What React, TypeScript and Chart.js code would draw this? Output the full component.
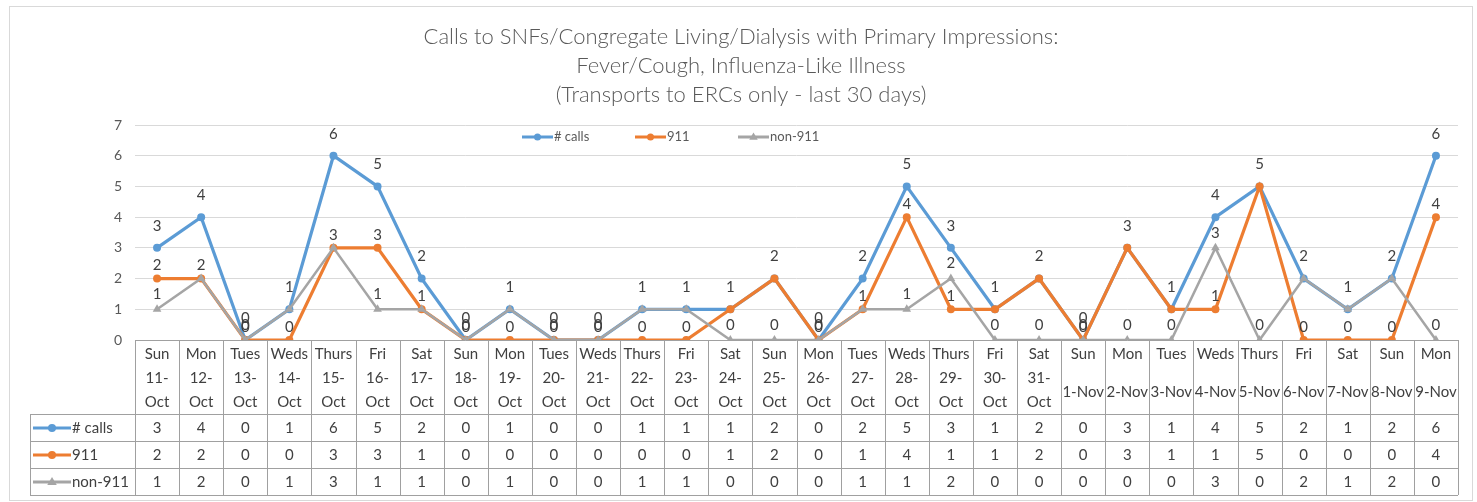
import React, { useEffect, useRef } from "react";
import { Chart, registerables } from "chart.js";

Chart.register(...registerables);

const titleLines = [
  "Calls to SNFs/Congregate Living/Dialysis with Primary Impressions:",
  "Fever/Cough, Influenza-Like Illness",
  "(Transports to ERCs only - last 30 days)",
];

const categories = [
  "Sun 11-Oct", "Mon 12-Oct", "Tues 13-Oct", "Weds 14-Oct", "Thurs 15-Oct", "Fri 16-Oct", "Sat 17-Oct",
  "Sun 18-Oct", "Mon 19-Oct", "Tues 20-Oct", "Weds 21-Oct", "Thurs 22-Oct", "Fri 23-Oct", "Sat 24-Oct",
  "Sun 25-Oct", "Mon 26-Oct", "Tues 27-Oct", "Weds 28-Oct", "Thurs 29-Oct", "Fri 30-Oct", "Sat 31-Oct",
  "Sun 1-Nov", "Mon 2-Nov", "Tues 3-Nov", "Weds 4-Nov", "Thurs 5-Nov", "Fri 6-Nov", "Sat 7-Nov",
  "Sun 8-Nov", "Mon 9-Nov",
];

const callsData = [3, 4, 0, 1, 6, 5, 2, 0, 1, 0, 0, 1, 1, 1, 2, 0, 2, 5, 3, 1, 2, 0, 3, 1, 4, 5, 2, 1, 2, 6];
const data911 = [2, 2, 0, 0, 3, 3, 1, 0, 0, 0, 0, 0, 0, 1, 2, 0, 1, 4, 1, 1, 2, 0, 3, 1, 1, 5, 0, 0, 0, 4];
const non911Data = [1, 2, 0, 1, 3, 1, 1, 0, 1, 0, 0, 1, 1, 0, 0, 0, 1, 1, 2, 0, 0, 0, 0, 0, 3, 0, 2, 1, 2, 0];

const seriesNames = ["# calls", "911", "non-911"];
const seriesColors = ["#5B9BD5", "#ED7D31", "#A5A5A5"];
const yMin = 0;
const yMax = 7;

const FONT = "Lato, Calibri, 'Open Sans', sans-serif";

function drawMarker(ctx: CanvasRenderingContext2D, style: string, x: number, y: number, r: number, color: string) {
  ctx.save();
  ctx.fillStyle = color;
  ctx.beginPath();
  if (style === "triangle") {
    ctx.moveTo(x, y - r);
    ctx.lineTo(x + r * 0.95, y + r * 0.6);
    ctx.lineTo(x - r * 0.95, y + r * 0.6);
    ctx.closePath();
  } else {
    ctx.arc(x, y, r, 0, Math.PI * 2);
  }
  ctx.fill();
  ctx.restore();
}

const decorPlugin = {
  id: "excelDecor",
  beforeDraw(chart: any) {
    const ctx = chart.ctx as CanvasRenderingContext2D;
    ctx.save();
    ctx.fillStyle = "#ffffff";
    ctx.fillRect(0, 0, chart.width, chart.height);
    ctx.strokeStyle = "#D9D9D9";
    ctx.lineWidth = 1;
    ctx.strokeRect(9.5, 6.5, 1463, 494);
    ctx.restore();
  },
  afterDatasetsDraw(chart: any) {
    const ctx = chart.ctx as CanvasRenderingContext2D;
    const offsets = [22, 13, 15];
    ctx.save();
    ctx.font = `15px ${FONT}`;
    ctx.fillStyle = "#404040";
    ctx.textAlign = "center";
    ctx.textBaseline = "middle";
    const dsets = chart.data.datasets;
    dsets.forEach((ds: any, di: number) => {
      const meta = chart.getDatasetMeta(di);
      meta.data.forEach((pt: any, i: number) => {
        const v = ds.data[i];
        // coincident points share one label (drawn by the earlier series)
        for (let k = 0; k < di; k++) {
          if (dsets[k].data[i] === v && v !== 0) return;
        }
        ctx.fillText(String(v), pt.x, pt.y - offsets[di]);
      });
    });
    ctx.restore();
  },
  afterDraw(chart: any) {
    const ctx = chart.ctx as CanvasRenderingContext2D;
    const area = chart.chartArea;
    const xs = chart.scales.x;
    const n = categories.length;
    const colW = (area.right - area.left) / n;

    // Title
    ctx.save();
    ctx.fillStyle = "#595959";
    ctx.font = `300 22px ${FONT}`;
    ctx.textAlign = "center";
    ctx.textBaseline = "middle";
    const titleY = [37, 66, 95];
    titleLines.forEach((t, i) => ctx.fillText(t, 741, titleY[i]));
    ctx.restore();

    // Legend (inside plot)
    ctx.save();
    ctx.font = `13px ${FONT}`;
    ctx.fillStyle = "#595959";
    ctx.textBaseline = "middle";
    const legX = [522, 635, 738];
    const legY = 137;
    seriesNames.forEach((name, i) => {
      ctx.strokeStyle = seriesColors[i];
      ctx.lineWidth = 3;
      ctx.beginPath();
      ctx.moveTo(legX[i], legY);
      ctx.lineTo(legX[i] + 31, legY);
      ctx.stroke();
      drawMarker(ctx, i === 2 ? "triangle" : "circle", legX[i] + 15.5, legY, i === 2 ? 4.5 : 3.5, seriesColors[i]);
      ctx.fillText(name, legX[i] + 32, legY);
    });
    ctx.restore();

    // Data table
    const top = area.bottom;
    const headBottom = 414;
    const rowLines = [414, 441, 468, 495];
    const keyLeft = 30;
    ctx.save();
    ctx.strokeStyle = "#A0A0A0";
    ctx.lineWidth = 1;
    ctx.beginPath();
    ctx.moveTo(area.left, Math.round(top) + 0.5);
    ctx.lineTo(area.right, Math.round(top) + 0.5);
    rowLines.forEach((y) => {
      ctx.moveTo(keyLeft, y + 0.5);
      ctx.lineTo(area.right, y + 0.5);
    });
    for (let i = 0; i <= n; i++) {
      const x = Math.round(area.left + i * colW) + 0.5;
      ctx.moveTo(x, top);
      ctx.lineTo(x, rowLines[rowLines.length - 1]);
    }
    ctx.moveTo(keyLeft + 0.5, headBottom);
    ctx.lineTo(keyLeft + 0.5, rowLines[rowLines.length - 1]);
    ctx.stroke();

    ctx.fillStyle = "#404040";
    ctx.font = `15px ${FONT}`;
    ctx.textAlign = "center";
    ctx.textBaseline = "middle";
    categories.forEach((cat, i) => {
      const cx = xs.getPixelForValue(i);
      const [day, date] = cat.split(" ");
      ctx.fillText(day, cx, 354);
      if (date.length >= 6) {
        const p = date.indexOf("-");
        ctx.fillText(date.slice(0, p + 1), cx, 378);
        ctx.fillText(date.slice(p + 1), cx, 402);
      } else {
        ctx.fillText(date, cx, 392);
      }
    });

    const allSeries = [callsData, data911, non911Data];
    const rowY = [428, 455, 482];
    allSeries.forEach((vals, r) => {
      vals.forEach((v, i) => {
        ctx.fillText(String(v), xs.getPixelForValue(i), rowY[r]);
      });
    });

    // Row keys
    ctx.textAlign = "left";
    seriesNames.forEach((name, r) => {
      const y = rowY[r];
      ctx.strokeStyle = seriesColors[r];
      ctx.lineWidth = 3;
      ctx.beginPath();
      ctx.moveTo(33, y);
      ctx.lineTo(71, y);
      ctx.stroke();
      drawMarker(ctx, r === 2 ? "triangle" : "circle", 52, y, r === 2 ? 5 : 4, seriesColors[r]);
      ctx.fillText(name, 72, y);
    });
    ctx.restore();
  },
};

export default function App() {
  const canvasRef = useRef<HTMLCanvasElement | null>(null);

  useEffect(() => {
    if (!canvasRef.current) return;
    const mk = (i: number, data: number[], order: number) => ({
      label: seriesNames[i],
      data,
      borderColor: seriesColors[i],
      backgroundColor: seriesColors[i],
      borderWidth: i === 2 ? 2.5 : 3.2,
      pointStyle: i === 2 ? "triangle" : "circle",
      pointRadius: i === 2 ? 5 : 4,
      pointBorderWidth: 0,
      pointBackgroundColor: seriesColors[i],
      tension: 0,
      order,
    });
    const chart = new Chart(canvasRef.current, {
      type: "line",
      data: {
        labels: categories,
        datasets: [mk(0, callsData, 3), mk(1, data911, 2), mk(2, non911Data, 1)] as any,
      },
      options: {
        responsive: false,
        animation: false,
        events: [],
        layout: { padding: { left: 95, right: 19, top: 125, bottom: 162 } },
        plugins: {
          legend: { display: false },
          title: { display: false },
          tooltip: { enabled: false },
        },
        scales: {
          x: { type: "category", display: false, offset: true },
          y: {
            min: yMin,
            max: yMax,
            ticks: {
              stepSize: 1,
              color: "#595959",
              padding: 13,
              font: { family: FONT, size: 14 },
            },
            grid: { color: "#D9D9D9", drawTicks: false, lineWidth: 1 },
            border: { display: false },
            afterFit: (s: any) => {
              s.width = 40;
            },
          },
        },
      } as any,
      plugins: [decorPlugin],
    });
    return () => chart.destroy();
  }, []);

  return (
    <div style={{ position: "absolute", left: 0, top: 0, width: 1477, height: 502, background: "#fff" }}>
      <canvas ref={canvasRef} width={1477} height={502} style={{ display: "block", width: 1477, height: 502 }} />
    </div>
  );
}
